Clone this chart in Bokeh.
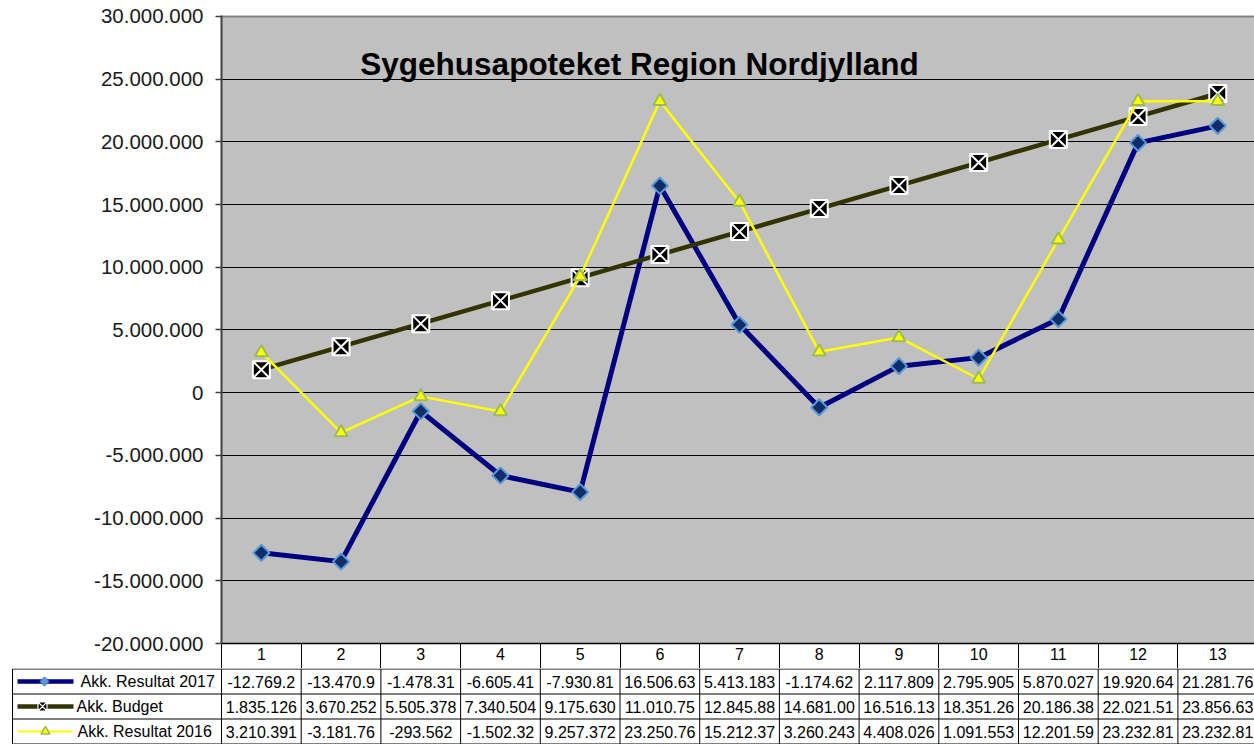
from bokeh.plotting import figure
from bokeh.models import Range1d, FixedTicker, Label, CustomJSTickFormatter
from bokeh.layouts import column
from bokeh.embed import file_html
from bokeh.resources import INLINE
from bokeh.core.properties import value
import numpy as np

# ---------------- data ----------------
categories = [1, 2, 3, 4, 5, 6, 7, 8, 9, 10, 11, 12, 13]
akk_2017 = [-12769200, -13470900, -1478310, -6605410, -7930810, 16506630, 5413183,
            -1174620, 2117809, 2795905, 5870027, 19920640, 21281760]
akk_budget = [1835126, 3670252, 5505378, 7340504, 9175630, 11010750, 12845880,
              14681000, 16516130, 18351260, 20186380, 22021510, 23856630]
akk_2016 = [3210391, -3181760, -293562, -1502320, 9257372, 23250760, 15212370,
            3260243, 4408026, 1091553, 12201590, 23232810, 23232810]
series_names = ["Akk. Resultat 2017", "Akk. Budget", "Akk. Resultat 2016"]
y_ticks = [-20000000, -15000000, -10000000, -5000000, 0, 5000000, 10000000,
           15000000, 20000000, 25000000, 30000000]
chart_title = "Sygehusapoteket Region Nordjylland"
top_title = "Akkumuleret"


def dk(v):
    s = f"{abs(int(round(v))):,}".replace(",", ".")
    return ("-" if v < 0 else "") + s


FONT = "Liberation Sans"
W = 1254
LEFT = 221
FW = W - LEFT
PX = 79.7
TOP = 15
FH = 628
HDR = 25
ROW = 25


def ref_x(rx):
    return 0.5 + (rx - 221) / PX


ymin, ymax = y_ticks[0], y_ticks[-1]
xmax = 0.5 + FW / PX
p = figure(frame_width=FW, frame_height=FH, min_border_left=LEFT, min_border_right=0,
           min_border_top=TOP, min_border_bottom=HDR,
           x_range=Range1d(0.5, xmax),
           y_range=Range1d(ymin, ymax + (ymax - ymin) / FH),
           output_backend="svg", toolbar_location=None,
           background_fill_color="#C0C0C0", border_fill_color="white",
           outline_line_color=None, frame_align=False)

# y axis
p.yaxis.ticker = FixedTicker(ticks=y_ticks)
p.yaxis.formatter = CustomJSTickFormatter(code="""
const a = Math.abs(Math.round(tick)).toString().replace(/\\B(?=(\\d{3})+(?!\\d))/g, ".");
return (tick < 0 ? "-" : "") + a;
""")
p.yaxis.axis_line_color = "#404040"
p.yaxis.axis_line_width = 2
p.yaxis.major_tick_out = 6
p.yaxis.major_tick_in = 0
p.yaxis.major_tick_line_color = "#404040"
p.yaxis.major_tick_line_width = 1.5
p.yaxis.minor_tick_line_color = None
p.yaxis.major_label_standoff = 12
p.yaxis.major_label_text_font = FONT
p.yaxis.major_label_text_font_size = "20.5px"
p.yaxis.major_label_text_color = "#1a1a1a"

# x axis (header row of the data table)
p.xaxis.ticker = FixedTicker(ticks=categories,
                             minor_ticks=[c - 0.5 for c in categories] + [categories[-1] + 0.5])
p.xaxis.major_label_overrides = {c: str(c) for c in categories}
p.xaxis.axis_line_color = "black"
p.xaxis.axis_line_width = 1.5
p.xaxis.major_tick_out = 0
p.xaxis.major_tick_in = 0
p.xaxis.minor_tick_out = HDR
p.xaxis.minor_tick_in = 0
p.xaxis.minor_tick_line_color = "black"
p.xaxis.major_label_standoff = 4 - HDR
p.xaxis.major_label_text_font = FONT
p.xaxis.major_label_text_font_size = "16px"
p.xaxis.major_label_text_color = "black"

p.xgrid.visible = False
p.ygrid.ticker = FixedTicker(ticks=y_ticks[:-1])
p.ygrid.grid_line_color = "black"
p.ygrid.grid_line_width = 1

# top border of plot area
p.segment(x0=[0.5], x1=[xmax], y0=[ymax], y1=[ymax], line_color="#808080", line_width=2)

# series
p.line(categories, akk_2017, line_color="#000080", line_width=5)
p.scatter(categories, akk_2017, marker="square", angle=np.pi / 4, size=11.5,
          fill_color="#0F2D69", line_color="#5A9BD5", line_width=2)
p.line(categories, akk_budget, line_color="#333300", line_width=4.5)
p.scatter(categories, akk_budget, marker="square_x", size=17, fill_color="black",
          line_color="white", line_width=2)
p.line(categories, akk_2016, line_color="#FFFF00", line_width=2.5)
p.scatter(categories, akk_2016, marker="triangle", size=13, fill_color="#FFFF00",
          line_color="#9BBB59", line_width=2)

p.add_layout(Label(x=ref_x(639), y=26.2e6, text=chart_title, text_font=FONT,
                   text_font_style="bold", text_font_size="31.5px", text_align="center",
                   text_baseline="middle", text_color="black"))
p.add_layout(Label(x=ref_x(625), y=ymax, y_offset=7, text=top_title, text_font=FONT,
                   text_font_style="bold", text_font_size="22px", text_align="center",
                   text_baseline="bottom", text_color="black"))

# ---------------- data table ----------------
t = figure(frame_width=W, frame_height=3 * ROW + 1, min_border=0,
           min_border_left=0, min_border_right=0, min_border_top=0, min_border_bottom=0,
           x_range=Range1d(0.5 - LEFT / PX, xmax),
           y_range=Range1d(-3 - 0.5 / ROW, 0.5 / ROW),
           output_backend="svg", toolbar_location=None,
           outline_line_color=None, background_fill_color="white",
           border_fill_color="white", frame_align=False)
t.axis.visible = False
t.grid.visible = False

xl = ref_x(12)
t.segment(x0=[xl] * 4, x1=[xmax] * 4, y0=[0, -1, -2, -3], y1=[0, -1, -2, -3],
          line_color="black", line_width=1)
xs = [xl] + [c - 0.5 for c in categories]
t.segment(x0=xs, x1=xs, y0=[0] * len(xs), y1=[-3] * len(xs), line_color="black", line_width=1)

for r, series in enumerate([akk_2017, akk_budget, akk_2016]):
    t.text(x=categories, y=[-r - 0.5] * len(categories), text=[dk(v)[:9] for v in series],
           text_font=value(FONT), text_font_size=value("16px"), text_align="center",
           text_baseline="middle", text_color="black")

ly = [-0.5, -1.5, -2.5]
# legend keys
t.line([ref_x(17), ref_x(73)], [ly[0], ly[0]], line_color="#000080", line_width=4.5)
t.scatter([ref_x(44)], [ly[0]], marker="square", angle=np.pi / 4, size=6.5,
          fill_color="#5A9BD5", line_color="#3E6FB0", line_width=1)
t.line([ref_x(17), ref_x(73)], [ly[1], ly[1]], line_color="#333300", line_width=4.5)
t.scatter([ref_x(42)], [ly[1]], marker="square_x", size=9, fill_color="black",
          line_color="white", line_width=1.2)
t.line([ref_x(17), ref_x(72)], [ly[2], ly[2]], line_color="#FFFF00", line_width=2)
t.scatter([ref_x(45)], [ly[2]], marker="triangle", size=9, fill_color="#FFFF00",
          line_color="#9BBB59", line_width=1.5)

t.text(x=[ref_x(80), ref_x(76), ref_x(77)], y=ly, text=series_names,
       text_font=value(FONT), text_font_size=value("16px"), text_align="left",
       text_baseline="middle", text_color="black")

layout = column(p, t, spacing=0)
open("out.html", "w").write(file_html(layout, INLINE))
